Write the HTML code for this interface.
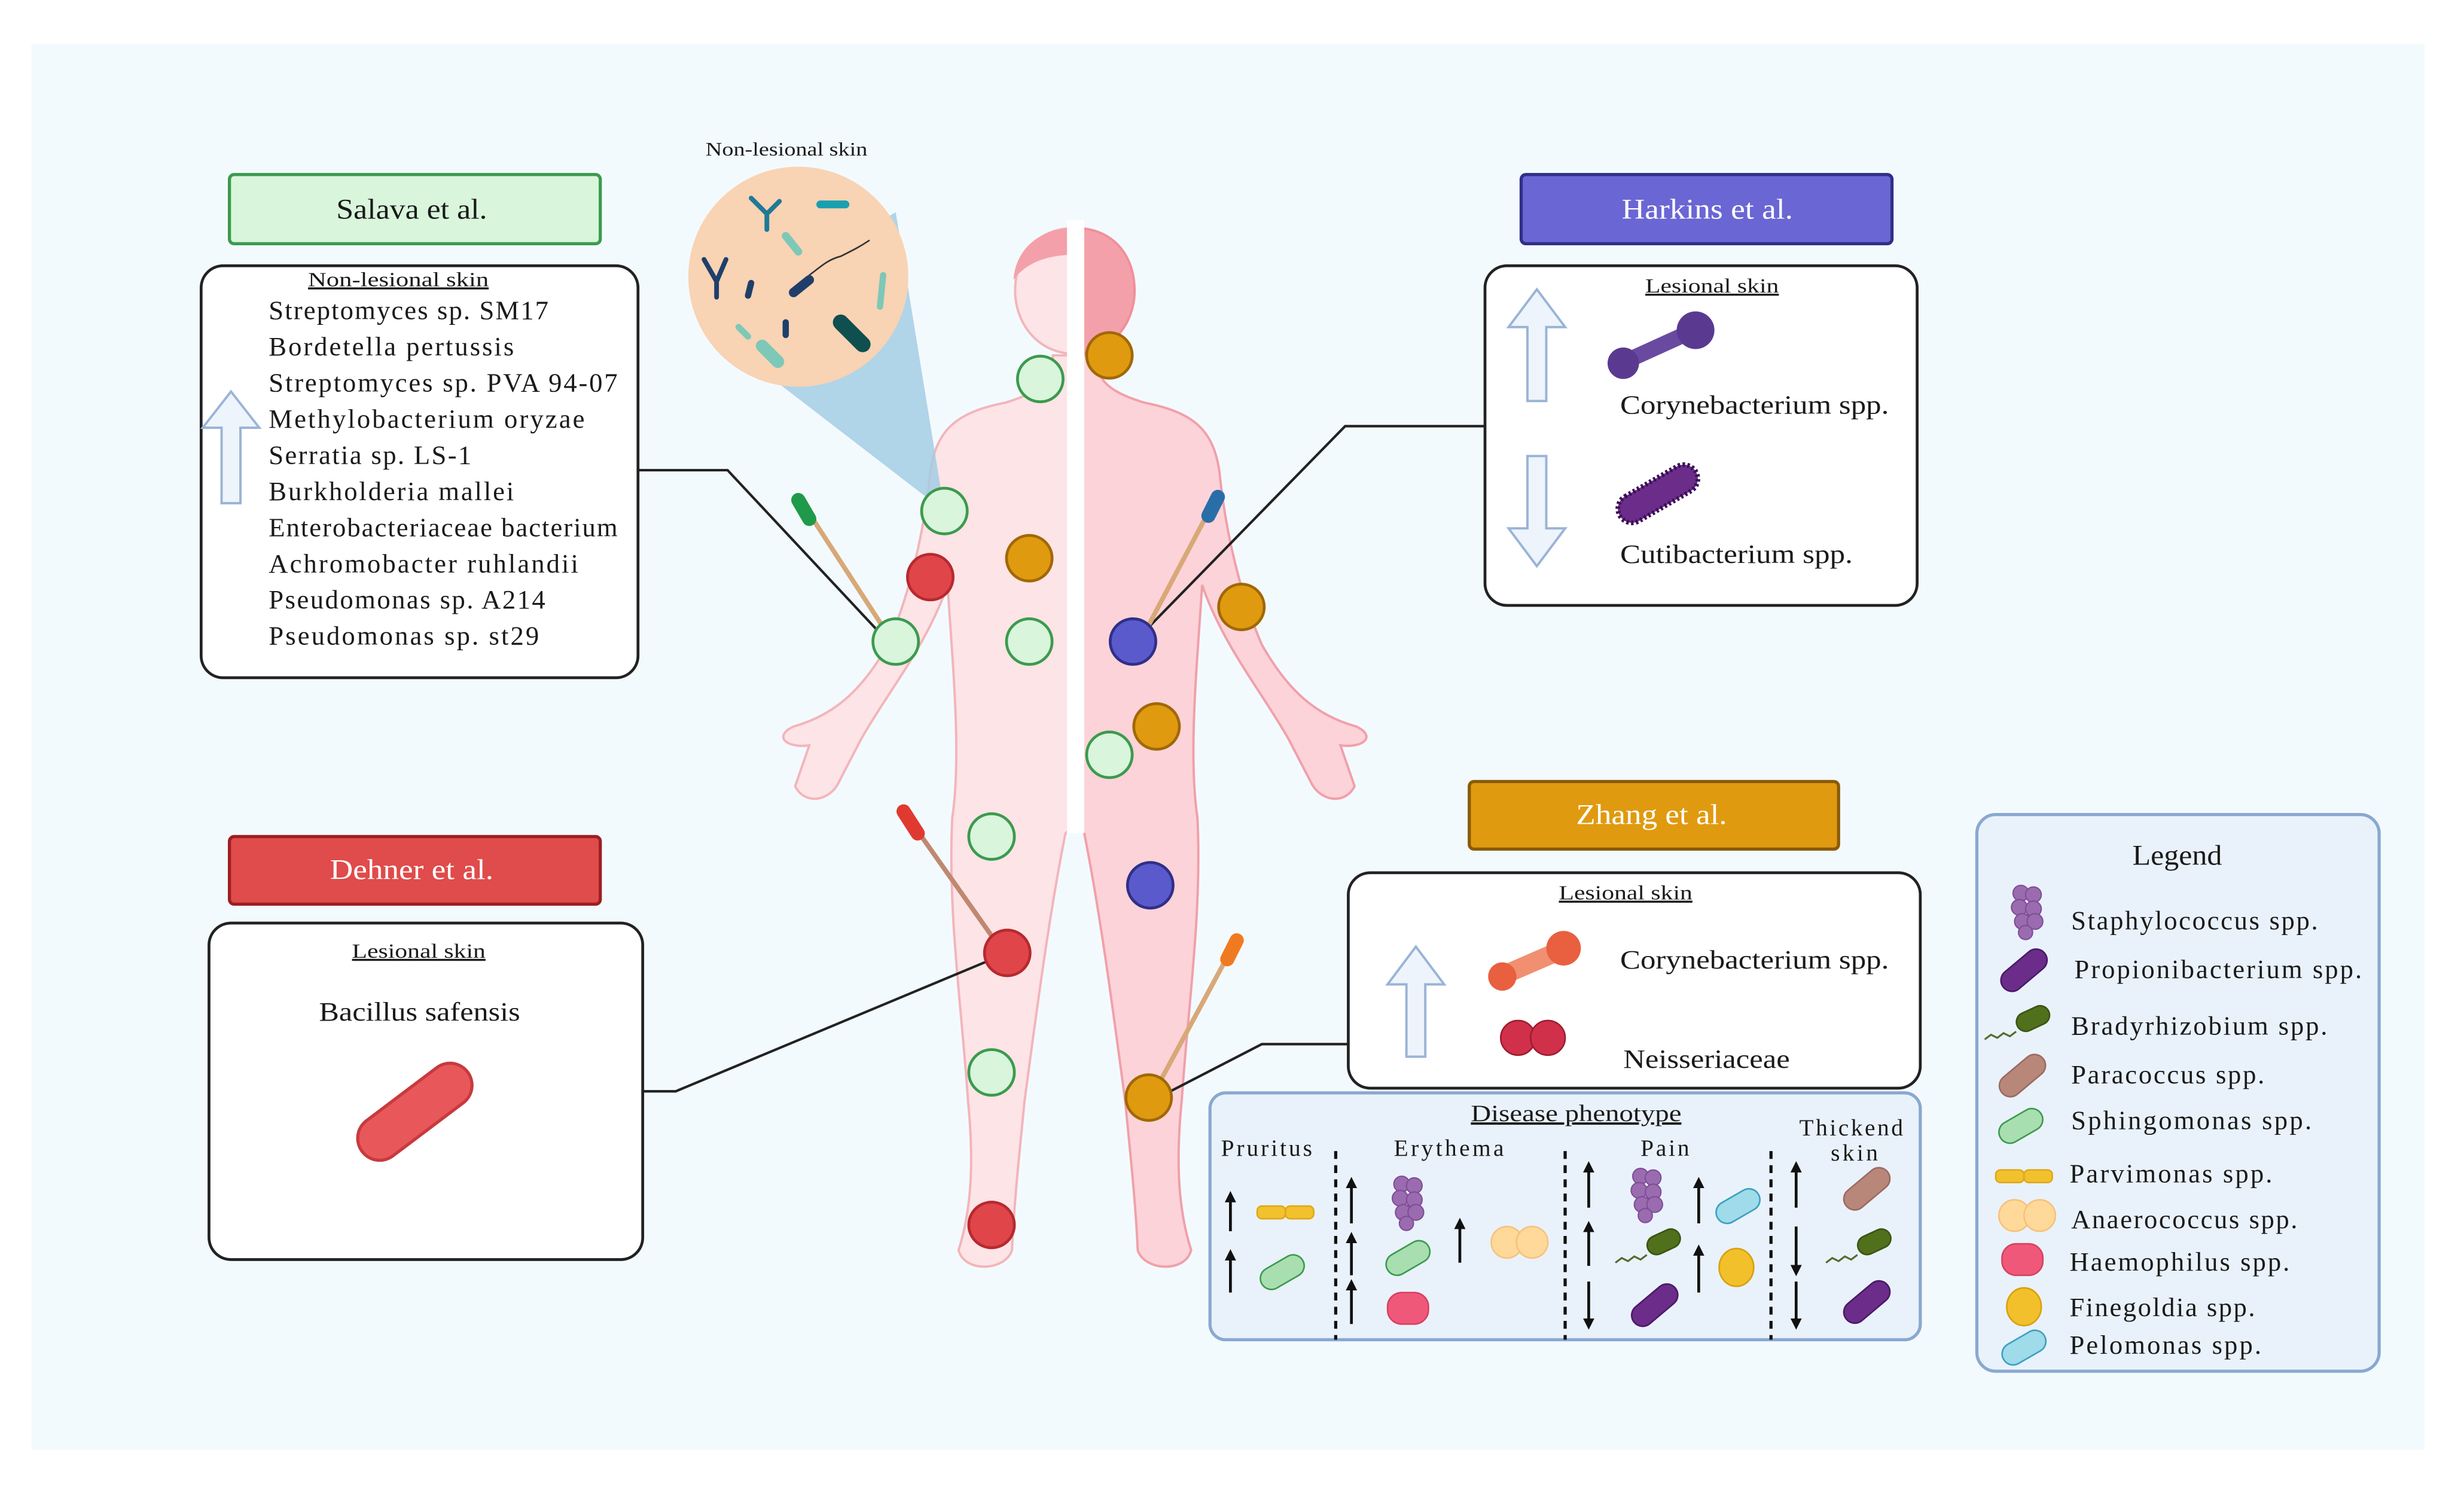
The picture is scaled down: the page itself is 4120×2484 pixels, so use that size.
<!DOCTYPE html>
<html><head><meta charset="utf-8"><style>
html,body{margin:0;padding:0;background:#fff;}
svg{display:block;}
text{font-family:"Liberation Serif",serif;fill:#1a1a1a;}
</style></head><body>
<svg width="4120" height="2484" viewBox="0 0 1568 945" preserveAspectRatio="none" xmlns="http://www.w3.org/2000/svg">
<defs>
<marker id="ah" viewBox="0 0 10 10" refX="5" refY="5" markerWidth="4" markerHeight="4" orient="auto-start-reverse"><path d="M0,0 L10,5 L0,10 Z" fill="#111"/></marker>
<g id="propi"><rect x="-17" y="-7" width="34" height="14" rx="7" fill="#6b2c8a" stroke="#4a1a66" transform="rotate(-40)"/></g>
<g id="para"><rect x="-17" y="-7" width="34" height="14" rx="7" fill="#b8877a" stroke="#9a6c60" transform="rotate(-40)"/></g>
<g id="brady"><path d="M-4,4 l-4,3 l-4,-2 l-4,3 l-4,-2 l-4,3" fill="none" stroke="#556b2f" stroke-width="1.2"/><rect x="-8" y="-6" width="22" height="12" rx="6" fill="#50701c" stroke="#3b5412" transform="translate(4,-3) rotate(-25)"/></g>
<g id="sphingo"><rect x="-15" y="-7" width="30" height="14" rx="7" fill="#a9dfb0" stroke="#3c9a4e" transform="rotate(-30)"/></g>
<g id="pelo"><rect x="-15" y="-7" width="30" height="14" rx="7" fill="#9fdbe8" stroke="#3aa0c0" transform="rotate(-30)"/></g>
<g id="parvi"><rect x="-18" y="-4" width="18" height="8" rx="3" fill="#f2c12e" stroke="#e0a818"/><rect x="0" y="-4" width="18" height="8" rx="3" fill="#f2c12e" stroke="#e0a818"/></g>
<g id="anaero"><circle cx="-8" cy="0" r="10" fill="#ffd99a" stroke="#f6c27a"/><circle cx="8" cy="0" r="10" fill="#ffd99a" stroke="#f6c27a"/></g>
<g id="haemo"><rect x="-13" y="-10" width="26" height="20" rx="9" fill="#f0587a" stroke="#d84060"/></g>
<g id="fineg"><ellipse rx="11" ry="12" fill="#f2c02a" stroke="#d9a010"/></g>
<g id="staph" fill="#9b6bb0" stroke="#7e4e96" stroke-width="0.8"><circle cx="-4" cy="-12" r="5"/><circle cx="4" cy="-11" r="5"/><circle cx="-5" cy="-3" r="5"/><circle cx="4" cy="-2" r="5"/><circle cx="-3" cy="6" r="5"/><circle cx="5" cy="6" r="5"/><circle cx="-1" cy="13" r="4.5"/></g>
<g id="figL"><path d="M684,226 L670,226 C670,240 666,248 640,256 C610,262 596,272 592,300 C588,340 578,380 565,410 C548,440 530,455 505,462 C492,468 500,476 515,474 L506,500 C512,512 528,510 534,497 L548,470 C565,440 590,410 603,372 C606,420 612,480 606,520 C603,580 612,640 616,700 C620,740 618,770 610,795 C614,810 640,808 644,795 C645,770 648,740 652,700 C660,640 668,580 678,530 L684,525 Z"/></g>
</defs>

<rect x="0" y="0" width="1568" height="945" fill="#fff"/>
<rect x="20" y="28" width="1523" height="894" fill="#f3fafd"/>

<!-- figure -->
<use href="#figL" fill="#fde4e6" stroke="#f2b5bb" stroke-width="1.5"/>
<use href="#figL" fill="#fcd3d8" stroke="#f0a0aa" stroke-width="1.5" transform="translate(1368,0) scale(-1,1)"/>
<path d="M684,145 C660,145 646,162 646,185 C646,205 660,225 684,225 Z" fill="#fde4e6" stroke="#f2b5bb" stroke-width="1.5"/>
<path d="M684,145 C660,145 646,160 645,178 C652,168 665,162 684,162 Z" fill="#f4a0aa"/>
<path d="M684,145 C708,145 722,162 722,185 C722,205 708,225 684,225 Z" fill="#f4a0aa" stroke="#f08f9a" stroke-width="1.5"/>
<rect x="679" y="140" width="11" height="390" fill="#fff"/>

<!-- magnifier -->
<polygon points="445,205 570,135 601,325" fill="#a3cde4" opacity="0.85"/>
<circle cx="508" cy="176" r="70" fill="#f8d3b4"/>
<g stroke-linecap="round" fill="none">
<path d="M478,126 l10,10 l8,-8 M488,136 l0,10" stroke="#1f7a95" stroke-width="3"/>
<path d="M448,165 l8,14 l6,-14 M456,179 l0,10" stroke="#1f3f6a" stroke-width="3"/>
<path d="M522,130 l16,0" stroke="#1a9fb0" stroke-width="5"/>
<path d="M535,205 l14,14" stroke="#0f4f4f" stroke-width="10"/>
<path d="M505,186 l10,-8" stroke="#1f3f6a" stroke-width="6"/>
<path d="M500,150 l8,10" stroke="#7ec8b8" stroke-width="5"/>
<path d="M478,180 l-2,8" stroke="#1f3f6a" stroke-width="4"/>
<path d="M470,208 l6,6" stroke="#7ec8b8" stroke-width="4"/>
<path d="M485,220 l10,10" stroke="#7ec8b8" stroke-width="8"/>
<path d="M500,205 l0,8" stroke="#1f3f6a" stroke-width="4"/>
<path d="M562,175 l-2,20" stroke="#7ec8b8" stroke-width="4"/>
<path d="M515,175 c8,-6 12,-10 20,-12 c8,-4 12,-6 18,-10" stroke="#333" stroke-width="1"/>
</g>
<text x="449" y="99" font-size="12" textLength="103" lengthAdjust="spacingAndGlyphs">Non-lesional skin</text>

<!-- connectors -->
<g stroke="#222" stroke-width="1.6" fill="none">
<polyline points="406,299 463,299 565,408"/>
<polyline points="945,271 856,271 722,408"/>
<polyline points="406,694 430,694 641,606"/>
<polyline points="858,664 803,664 737,698"/>
</g>

<!-- swabs -->
<g stroke-linecap="round">
<line x1="512" y1="322" x2="566" y2="405" stroke="#d8a878" stroke-width="3"/><line x1="508" y1="318" x2="515" y2="330" stroke="#1f9a4a" stroke-width="9"/>
<line x1="772" y1="320" x2="727" y2="405" stroke="#d8a878" stroke-width="3"/><line x1="775" y1="316" x2="769" y2="328" stroke="#2a6ea8" stroke-width="9"/>
<line x1="578" y1="520" x2="638" y2="605" stroke="#c08870" stroke-width="3"/><line x1="575" y1="516" x2="584" y2="530" stroke="#e03a30" stroke-width="9"/>
<line x1="784" y1="603" x2="737" y2="690" stroke="#d8a878" stroke-width="3"/><line x1="787" y1="598" x2="781" y2="610" stroke="#f07a20" stroke-width="9"/>
</g>

<!-- sampling circles -->
<g fill="#d9f5dc" stroke="#3c9a4e" stroke-width="1.8">
<circle cx="662" cy="241" r="14.5"/><circle cx="601" cy="325" r="14.5"/><circle cx="655" cy="408" r="14.5"/><circle cx="570" cy="408" r="14.5"/><circle cx="706" cy="480" r="14.5"/><circle cx="631" cy="532" r="14.5"/><circle cx="631" cy="682" r="14.5"/>
</g>
<g fill="#e0454a" stroke="#b52a30" stroke-width="1.8"><circle cx="592" cy="367" r="14.5"/><circle cx="641" cy="606" r="14.5"/><circle cx="631" cy="779" r="14.5"/></g>
<g fill="#e09a10" stroke="#a06808" stroke-width="1.8"><circle cx="706" cy="226" r="14.5"/><circle cx="655" cy="355" r="14.5"/><circle cx="790" cy="386" r="14.5"/><circle cx="736" cy="462" r="14.5"/><circle cx="731" cy="698" r="14.5"/></g>
<g fill="#5a5acc" stroke="#2f2f88" stroke-width="1.8"><circle cx="721" cy="408" r="14.5"/><circle cx="732" cy="563" r="14.5"/></g>

<!-- Salava -->
<rect x="146" y="111" width="236" height="44" rx="3" fill="#d9f5dc" stroke="#3c9a4e" stroke-width="2"/>
<text x="214" y="139" font-size="18" textLength="96" lengthAdjust="spacingAndGlyphs">Salava et al.</text>
<rect x="128" y="169" width="278" height="262" rx="14" fill="#fff" stroke="#222" stroke-width="1.8"/>
<text x="196" y="182" font-size="13" text-decoration="underline" textLength="115" lengthAdjust="spacingAndGlyphs">Non-lesional skin</text>
<path d="M129,272 L147,249 L165,272 L153,272 L153,320 L141,320 L141,272 Z" fill="#eef4fb" stroke="#9ab4d6" stroke-width="1.5"/>
<g font-size="17" lengthAdjust="spacingAndGlyphs">
<text x="171" y="203" textLength="178">Streptomyces sp. SM17</text>
<text x="171" y="226" textLength="156">Bordetella pertussis</text>
<text x="171" y="249" textLength="222">Streptomyces sp. PVA 94-07</text>
<text x="171" y="272" textLength="201">Methylobacterium oryzae</text>
<text x="171" y="295" textLength="129">Serratia sp. LS-1</text>
<text x="171" y="318" textLength="156">Burkholderia mallei</text>
<text x="171" y="341" textLength="222">Enterobacteriaceae bacterium</text>
<text x="171" y="364" textLength="197">Achromobacter ruhlandii</text>
<text x="171" y="387" textLength="176">Pseudomonas sp. A214</text>
<text x="171" y="410" textLength="172">Pseudomonas sp. st29</text>
</g>

<!-- Harkins -->
<rect x="968" y="111" width="236" height="44" rx="3" fill="#6a66d4" stroke="#2f2f88" stroke-width="2"/>
<text x="1032" y="139" font-size="18" textLength="109" lengthAdjust="spacingAndGlyphs" style="fill:#fff">Harkins et al.</text>
<rect x="945" y="169" width="275" height="216" rx="14" fill="#fff" stroke="#222" stroke-width="1.8"/>
<text x="1047" y="186" font-size="13" text-decoration="underline" textLength="85" lengthAdjust="spacingAndGlyphs">Lesional skin</text>
<path d="M960,208 L978,184 L996,208 L984,208 L984,255 L972,255 L972,208 Z" fill="#eef4fb" stroke="#9ab4d6" stroke-width="1.5"/>
<path d="M960,336 L978,360 L996,336 L984,336 L984,290 L972,290 L972,336 Z" fill="#eef4fb" stroke="#9ab4d6" stroke-width="1.5"/>
<g><line x1="1034" y1="230" x2="1078" y2="210" stroke="#6a4aa0" stroke-width="10" stroke-linecap="round"/><circle cx="1079" cy="210" r="12" fill="#5a3a90"/><circle cx="1033" cy="231" r="10" fill="#5a3a90"/></g>
<g transform="translate(1055,314) rotate(-30)"><rect x="-28" y="-9" width="56" height="18" rx="9" fill="#6b2c8a" stroke="#3a0f55" stroke-width="3" stroke-dasharray="1.5 1.5"/></g>
<text x="1031" y="263" font-size="17" textLength="171" lengthAdjust="spacingAndGlyphs">Corynebacterium spp.</text>
<text x="1031" y="358" font-size="17" textLength="148" lengthAdjust="spacingAndGlyphs">Cutibacterium spp.</text>

<!-- Dehner -->
<rect x="146" y="532" width="236" height="43" rx="3" fill="#e04b4b" stroke="#9c1f22" stroke-width="2"/>
<text x="210" y="559" font-size="18" textLength="104" lengthAdjust="spacingAndGlyphs" style="fill:#fff">Dehner et al.</text>
<rect x="133" y="587" width="276" height="214" rx="14" fill="#fff" stroke="#222" stroke-width="1.8"/>
<text x="224" y="609" font-size="13" text-decoration="underline" textLength="85" lengthAdjust="spacingAndGlyphs">Lesional skin</text>
<text x="203" y="649" font-size="17" textLength="128" lengthAdjust="spacingAndGlyphs">Bacillus safensis</text>
<g transform="translate(264,707) rotate(-37)"><rect x="-42" y="-14" width="84" height="28" rx="14" fill="#e8585a" stroke="#c83a3e" stroke-width="2"/></g>

<!-- Zhang -->
<rect x="935" y="497" width="235" height="43" rx="3" fill="#e09a10" stroke="#8a5a08" stroke-width="2"/>
<text x="1003" y="524" font-size="18" textLength="96" lengthAdjust="spacingAndGlyphs" style="fill:#fff">Zhang et al.</text>
<rect x="858" y="555" width="364" height="137" rx="14" fill="#fff" stroke="#222" stroke-width="1.8"/>
<text x="992" y="572" font-size="13" text-decoration="underline" textLength="85" lengthAdjust="spacingAndGlyphs">Lesional skin</text>
<path d="M883,626 L901,602 L919,626 L907,626 L907,672 L895,672 L895,626 Z" fill="#eef4fb" stroke="#9ab4d6" stroke-width="1.5"/>
<g><line x1="957" y1="620" x2="994" y2="604" stroke="#f09070" stroke-width="12" stroke-linecap="round"/><circle cx="995" cy="603" r="11" fill="#e86040"/><circle cx="956" cy="621" r="9" fill="#e86040"/></g>
<g fill="#d0304a" stroke="#a01c30"><circle cx="966" cy="660" r="11"/><circle cx="985" cy="660" r="11"/></g>
<text x="1031" y="616" font-size="17" textLength="171" lengthAdjust="spacingAndGlyphs">Corynebacterium spp.</text>
<text x="1033" y="679" font-size="17" textLength="106" lengthAdjust="spacingAndGlyphs">Neisseriaceae</text>

<!-- Disease phenotype -->
<rect x="770" y="695" width="452" height="157" rx="10" fill="#e9f2fb" stroke="#8aa8d0" stroke-width="2"/>
<text x="936" y="713" font-size="15" text-decoration="underline" textLength="134" lengthAdjust="spacingAndGlyphs">Disease phenotype </text>
<g font-size="15" lengthAdjust="spacingAndGlyphs">
<text x="777" y="735" textLength="58">Pruritus</text><text x="887" y="735" textLength="70">Erythema</text><text x="1044" y="735" textLength="31">Pain</text><text x="1145" y="722" textLength="66">Thickend</text><text x="1165" y="738" textLength="30">skin</text>
</g>
<g stroke="#111" stroke-width="2" stroke-dasharray="5 4"><line x1="850" y1="732" x2="850" y2="852"/><line x1="996" y1="732" x2="996" y2="852"/><line x1="1127" y1="732" x2="1127" y2="852"/></g>
<g stroke="#111" stroke-width="1.8" marker-end="url(#ah)">
<line x1="783" y1="783" x2="783" y2="761"/><line x1="783" y1="822" x2="783" y2="798"/>
<line x1="860" y1="778" x2="860" y2="752"/><line x1="860" y1="811" x2="860" y2="787"/><line x1="860" y1="842" x2="860" y2="817"/>
<line x1="929" y1="803" x2="929" y2="778"/>
<line x1="1011" y1="768" x2="1011" y2="742"/><line x1="1011" y1="805" x2="1011" y2="780"/><line x1="1011" y1="815" x2="1011" y2="842"/>
<line x1="1081" y1="778" x2="1081" y2="752"/><line x1="1081" y1="822" x2="1081" y2="795"/>
<line x1="1143" y1="768" x2="1143" y2="742"/><line x1="1143" y1="780" x2="1143" y2="808"/><line x1="1143" y1="815" x2="1143" y2="842"/>
</g>
<use href="#parvi" x="818" y="771"/><use href="#sphingo" x="816" y="809"/>
<use href="#staph" x="896" y="765"/><use href="#sphingo" x="896" y="800"/><use href="#haemo" x="896" y="832"/><use href="#anaero" x="967" y="790"/>
<use href="#staph" x="1048" y="760"/><use href="#brady" x="1052" y="794"/><use href="#propi" x="1053" y="830"/><use href="#pelo" x="1106" y="767"/><use href="#fineg" x="1105" y="806"/>
<use href="#para" x="1188" y="756"/><use href="#brady" x="1186" y="794"/><use href="#propi" x="1188" y="828"/>

<!-- Legend -->
<rect x="1258" y="518" width="256" height="354" rx="12" fill="#e9f2fb" stroke="#8aa8d0" stroke-width="2"/>
<text x="1357" y="550" font-size="18" textLength="57" lengthAdjust="spacingAndGlyphs">Legend</text>
<use href="#staph" x="1290" y="580"/><use href="#propi" x="1288" y="617"/><use href="#brady" x="1287" y="652"/><use href="#para" x="1287" y="684"/><use href="#sphingo" x="1286" y="716"/><use href="#parvi" x="1288" y="748"/><use href="#anaero" x="1290" y="773"/><use href="#haemo" x="1287" y="801"/><use href="#fineg" x="1288" y="831"/><use href="#pelo" x="1288" y="857"/>
<g font-size="17" lengthAdjust="spacingAndGlyphs">
<text x="1318" y="591" textLength="157">Staphylococcus spp.</text>
<text x="1320" y="622" textLength="183">Propionibacterium spp.</text>
<text x="1318" y="658" textLength="163">Bradyrhizobium spp.</text>
<text x="1318" y="689" textLength="123">Paracoccus spp.</text>
<text x="1318" y="718" textLength="153">Sphingomonas spp.</text>
<text x="1317" y="752" textLength="129">Parvimonas spp.</text>
<text x="1318" y="781" textLength="144">Anaerococcus spp.</text>
<text x="1317" y="808" textLength="140">Haemophilus spp.</text>
<text x="1317" y="837" textLength="118">Finegoldia spp.</text>
<text x="1317" y="861" textLength="122">Pelomonas spp.</text>
</g>
</svg>
</body></html>
